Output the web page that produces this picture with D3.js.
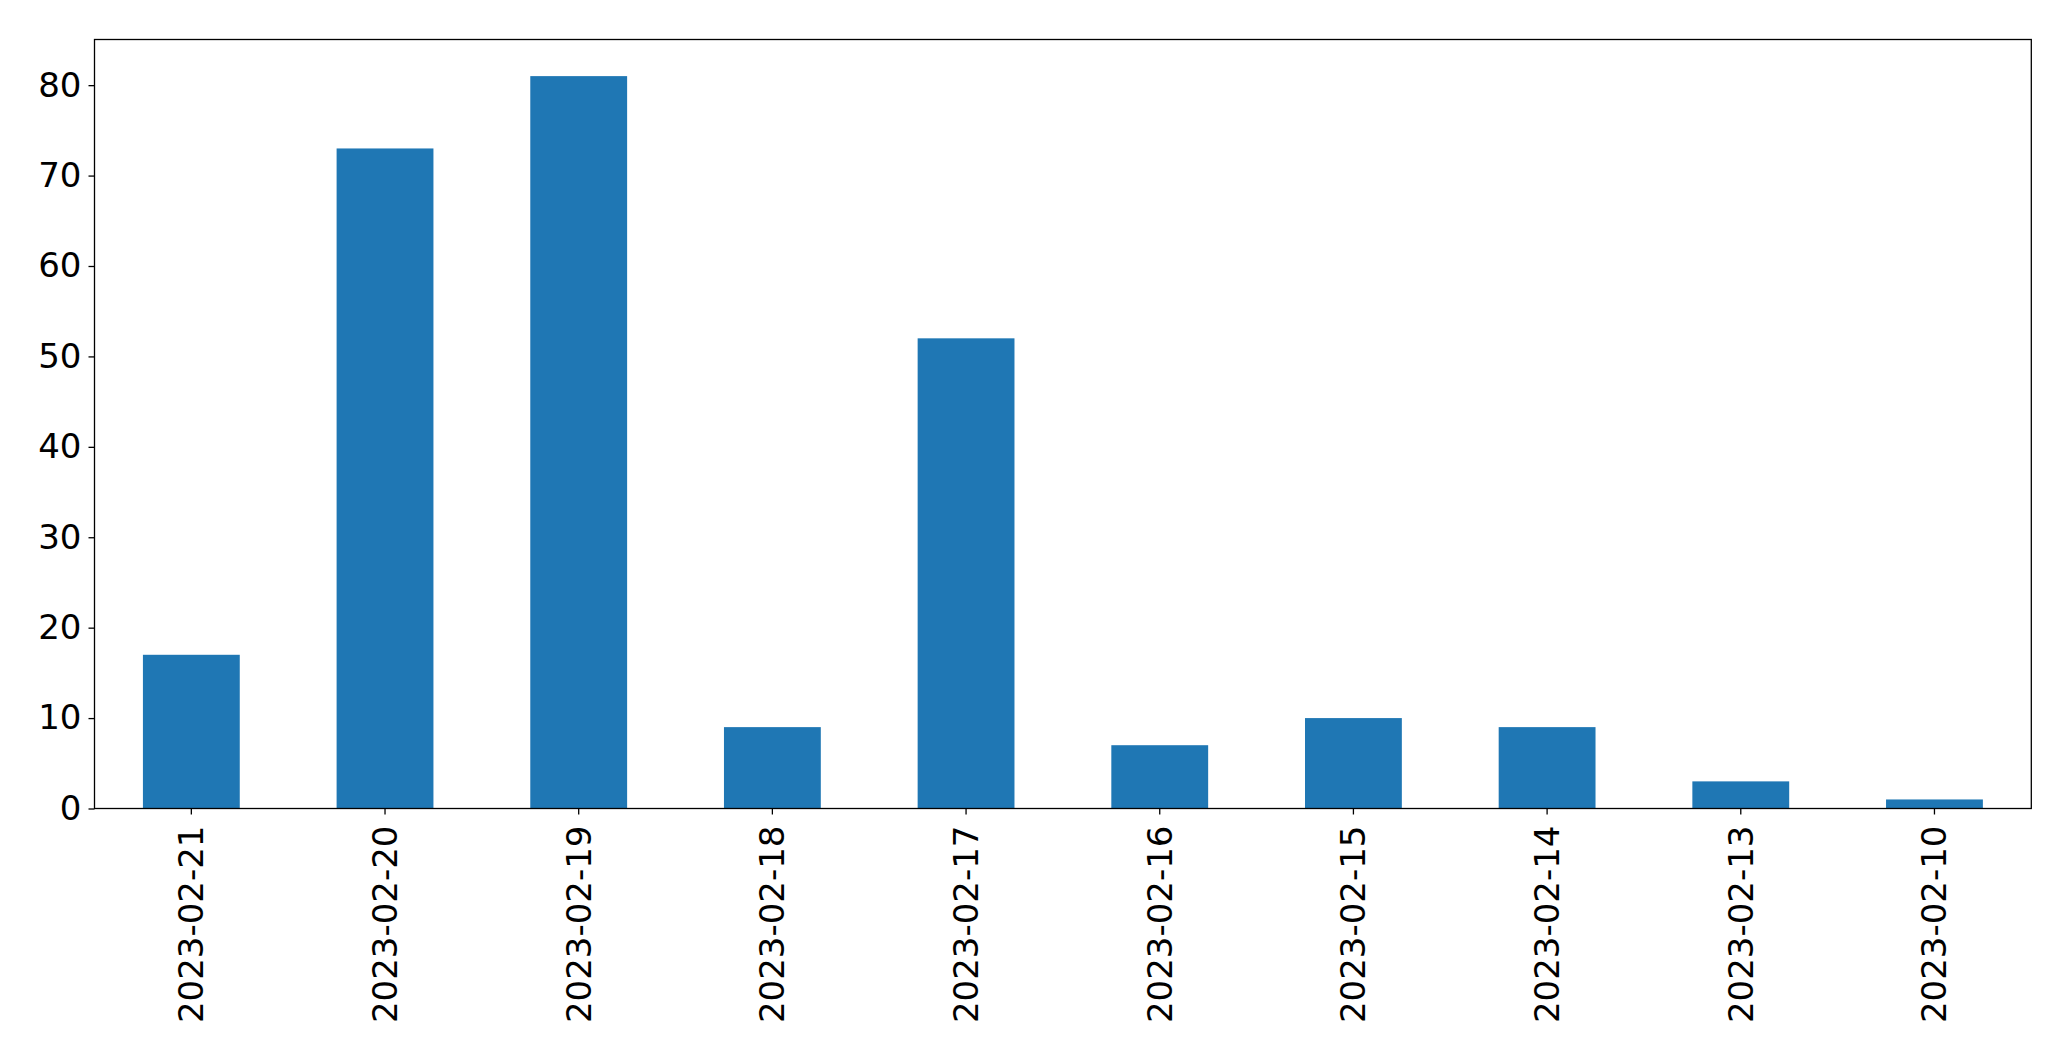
<!DOCTYPE html>
<html><head><meta charset="utf-8">
<script src="https://cdn.jsdelivr.net/npm/d3@7"></script>
<style>body{margin:0;background:#fff}svg{display:block}text{font-family:"DejaVu Sans",sans-serif;fill:#000}</style>
</head><body>
<script>
const categories = ["2023-02-21","2023-02-20","2023-02-19","2023-02-18","2023-02-17","2023-02-16","2023-02-15","2023-02-14","2023-02-13","2023-02-10"];
const values = [17, 73, 81, 9, 52, 7, 10, 9, 3, 1];
const yTicks = [0, 10, 20, 30, 40, 50, 60, 70, 80];

const W = 2071, H = 1061;
const L = 94.5, R = 2031.3, T = 39.5, B = 808.5;
const svg = d3.select("body").append("svg").attr("width", W).attr("height", H);

const x = d3.scaleBand().domain(categories).range([L, R]).paddingInner(0.5).paddingOuter(0.25);
const y = d3.scaleLinear().domain([0, d3.max(values) * 1.05]).range([B, T]);

svg.append("g").selectAll("rect").data(values).join("rect")
  .attr("x", (d, i) => x(categories[i]))
  .attr("width", x.bandwidth())
  .attr("y", d => y(d))
  .attr("height", d => B - y(d))
  .attr("fill", "#1f77b4");

const fs = 34;
const yAxis = svg.append("g").attr("transform", `translate(${L},0)`)
  .call(d3.axisLeft(y).tickValues(yTicks).tickSize(6).tickPadding(7));
yAxis.select(".domain").remove();
yAxis.selectAll("line").attr("stroke", "#000").attr("stroke-width", 1.3);
yAxis.selectAll("text").attr("font-size", fs).attr("font-family", "DejaVu Sans").attr("fill", "#000");

const xAxis = svg.append("g").attr("transform", `translate(0,${B})`)
  .call(d3.axisBottom(x).tickSize(6).tickSizeOuter(0));
xAxis.select(".domain").remove();
xAxis.selectAll("line").attr("stroke", "#000").attr("stroke-width", 1.3);
xAxis.selectAll("text")
  .attr("font-size", fs).attr("font-family", "DejaVu Sans").attr("fill", "#000")
  .attr("transform", "rotate(-90)")
  .attr("text-anchor", "end")
  .attr("x", -17).attr("y", 0).attr("dy", "0.35em");

svg.append("rect").attr("x", L).attr("y", T).attr("width", R - L).attr("height", B - T)
  .attr("fill", "none").attr("stroke", "#000").attr("stroke-width", 1.3);
</script>
</body></html>
